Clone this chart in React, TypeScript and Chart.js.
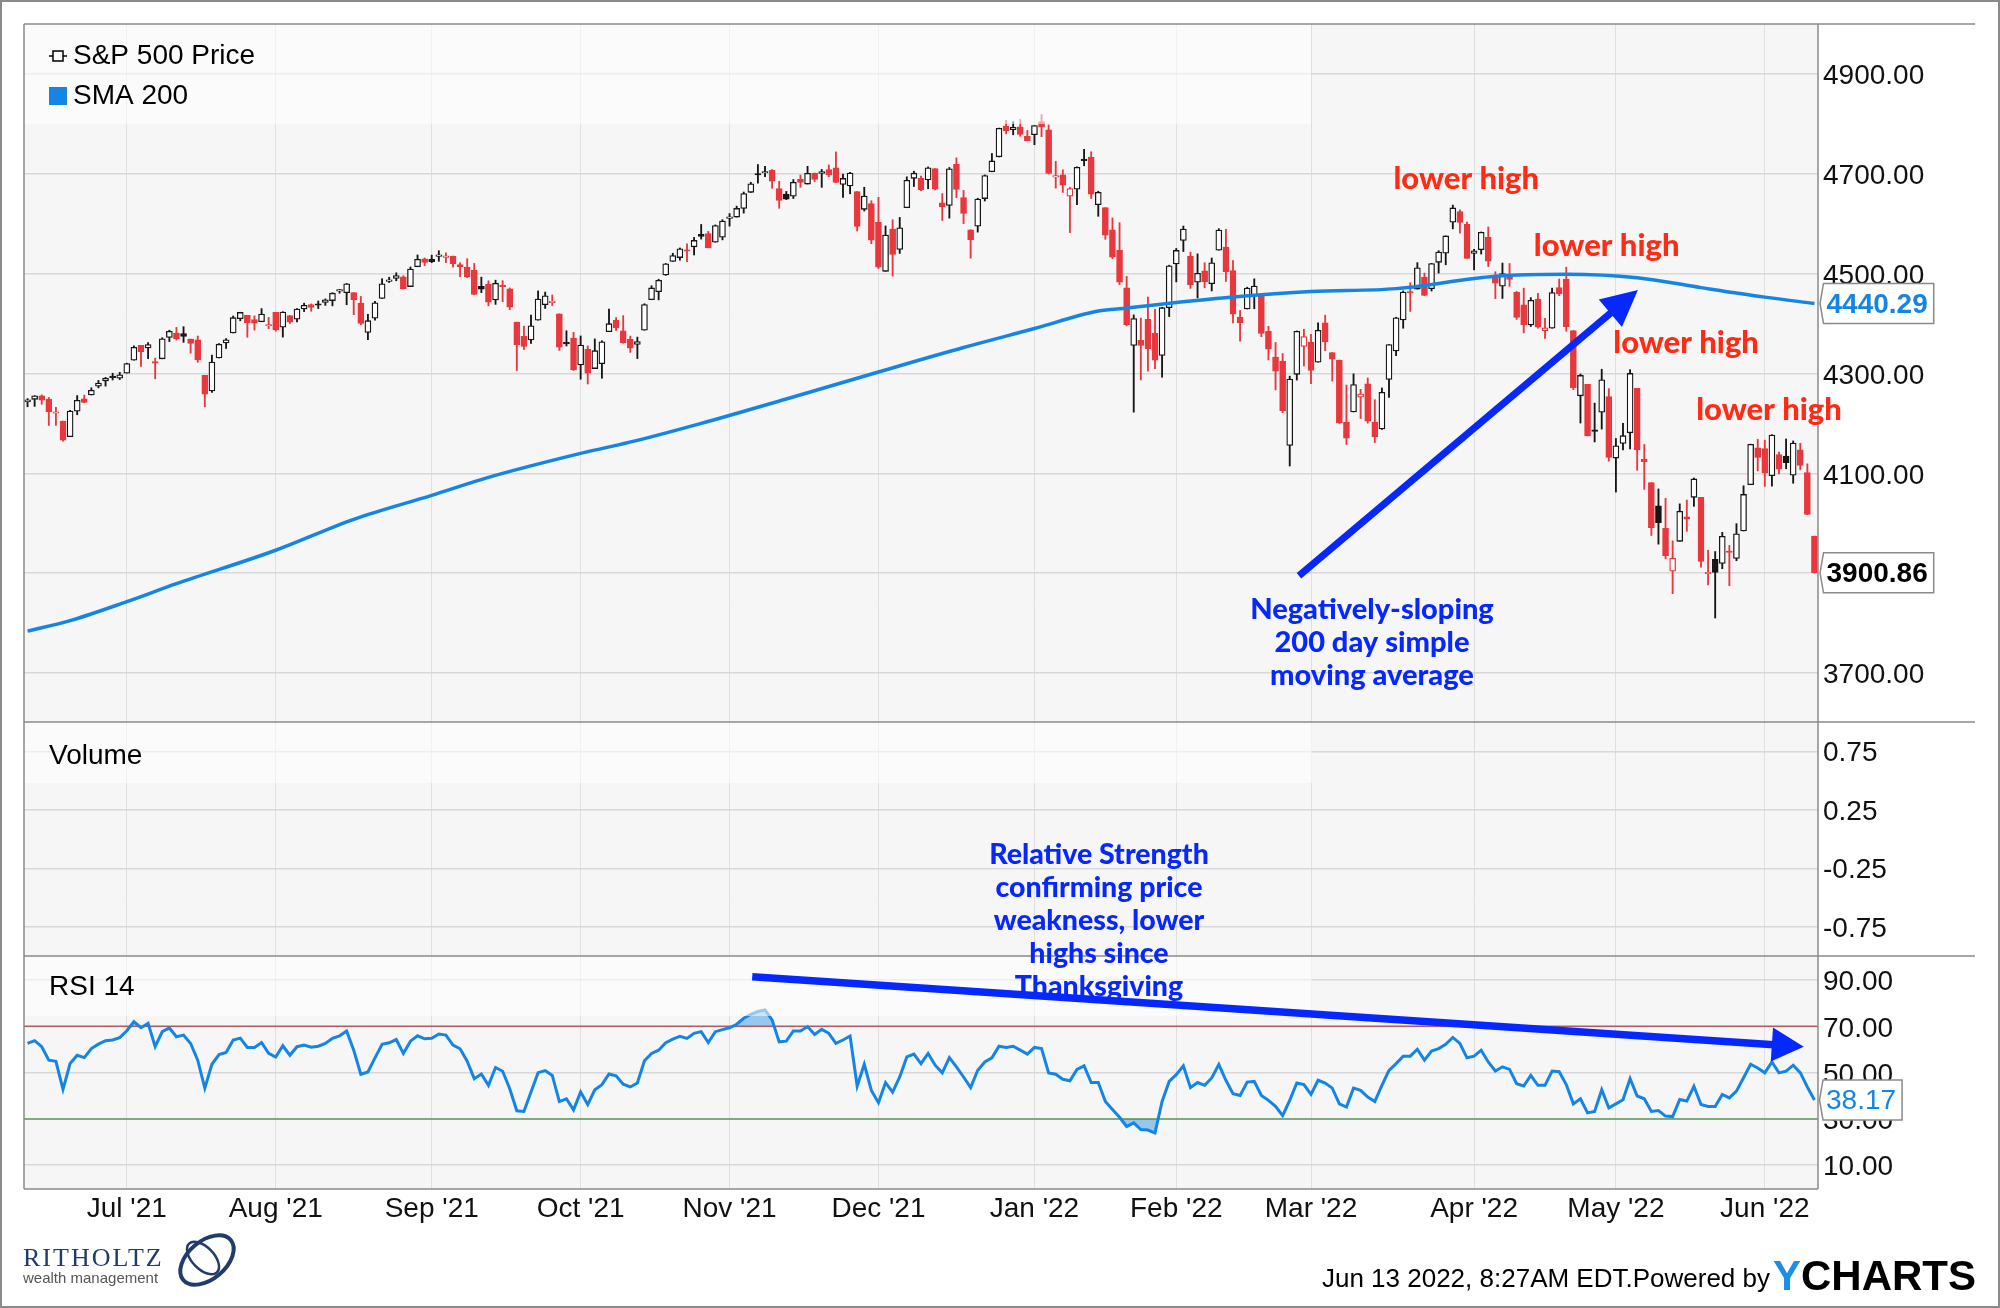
import React, { useEffect, useRef } from 'react';
import { Chart, registerables } from 'chart.js';

Chart.register(...registerables);

// ---------------- data ----------------
const dates = [
  '2021-06-11','2021-06-14','2021-06-15','2021-06-16','2021-06-17','2021-06-18','2021-06-21','2021-06-22','2021-06-23','2021-06-24','2021-06-25','2021-06-28','2021-06-29','2021-06-30',
  '2021-07-01','2021-07-02','2021-07-06','2021-07-07','2021-07-08','2021-07-09','2021-07-12','2021-07-13','2021-07-14','2021-07-15','2021-07-16','2021-07-19','2021-07-20','2021-07-21','2021-07-22','2021-07-23','2021-07-26','2021-07-27','2021-07-28','2021-07-29','2021-07-30',
  '2021-08-02','2021-08-03','2021-08-04','2021-08-05','2021-08-06','2021-08-09','2021-08-10','2021-08-11','2021-08-12','2021-08-13','2021-08-16','2021-08-17','2021-08-18','2021-08-19','2021-08-20','2021-08-23','2021-08-24','2021-08-25','2021-08-26','2021-08-27','2021-08-30','2021-08-31',
  '2021-09-01','2021-09-02','2021-09-03','2021-09-07','2021-09-08','2021-09-09','2021-09-10','2021-09-13','2021-09-14','2021-09-15','2021-09-16','2021-09-17','2021-09-20','2021-09-21','2021-09-22','2021-09-23','2021-09-24','2021-09-27','2021-09-28','2021-09-29','2021-09-30',
  '2021-10-01','2021-10-04','2021-10-05','2021-10-06','2021-10-07','2021-10-08','2021-10-11','2021-10-12','2021-10-13','2021-10-14','2021-10-15','2021-10-18','2021-10-19','2021-10-20','2021-10-21','2021-10-22','2021-10-25','2021-10-26','2021-10-27','2021-10-28','2021-10-29',
  '2021-11-01','2021-11-02','2021-11-03','2021-11-04','2021-11-05','2021-11-08','2021-11-09','2021-11-10','2021-11-11','2021-11-12','2021-11-15','2021-11-16','2021-11-17','2021-11-18','2021-11-19','2021-11-22','2021-11-23','2021-11-24','2021-11-26','2021-11-29','2021-11-30',
  '2021-12-01','2021-12-02','2021-12-03','2021-12-06','2021-12-07','2021-12-08','2021-12-09','2021-12-10','2021-12-13','2021-12-14','2021-12-15','2021-12-16','2021-12-17','2021-12-20','2021-12-21','2021-12-22','2021-12-23','2021-12-27','2021-12-28','2021-12-29','2021-12-30','2021-12-31',
  '2022-01-03','2022-01-04','2022-01-05','2022-01-06','2022-01-07','2022-01-10','2022-01-11','2022-01-12','2022-01-13','2022-01-14','2022-01-18','2022-01-19','2022-01-20','2022-01-21','2022-01-24','2022-01-25','2022-01-26','2022-01-27','2022-01-28','2022-01-31',
  '2022-02-01','2022-02-02','2022-02-03','2022-02-04','2022-02-07','2022-02-08','2022-02-09','2022-02-10','2022-02-11','2022-02-14','2022-02-15','2022-02-16','2022-02-17','2022-02-18','2022-02-22','2022-02-23','2022-02-24','2022-02-25','2022-02-28',
  '2022-03-01','2022-03-02','2022-03-03','2022-03-04','2022-03-07','2022-03-08','2022-03-09','2022-03-10','2022-03-11','2022-03-14','2022-03-15','2022-03-16','2022-03-17','2022-03-18','2022-03-21','2022-03-22','2022-03-23','2022-03-24','2022-03-25','2022-03-28','2022-03-29','2022-03-30','2022-03-31',
  '2022-04-01','2022-04-04','2022-04-05','2022-04-06','2022-04-07','2022-04-08','2022-04-11','2022-04-12','2022-04-13','2022-04-14','2022-04-18','2022-04-19','2022-04-20','2022-04-21','2022-04-22','2022-04-25','2022-04-26','2022-04-27','2022-04-28','2022-04-29',
  '2022-05-02','2022-05-03','2022-05-04','2022-05-05','2022-05-06','2022-05-09','2022-05-10','2022-05-11','2022-05-12','2022-05-13','2022-05-16','2022-05-17','2022-05-18','2022-05-19','2022-05-20','2022-05-23','2022-05-24','2022-05-25','2022-05-26','2022-05-27','2022-05-31',
  '2022-06-01','2022-06-02','2022-06-03','2022-06-06','2022-06-07','2022-06-08','2022-06-09','2022-06-10',
];

const openPrices = [
  4242.9,4248.3,4255.3,4248.9,4220.4,4204.8,4173.4,4224.6,4249.3,4257.0,4274.5,4284.9,4293.2,4290.7,
  4300.7,4326.6,4356.5,4351.0,4321.1,4329.4,4372.4,4381.1,4380.1,4369.0,4367.4,4296.4,4265.1,4331.1,4361.3,4381.2,4409.6,4416.4,4407.9,4403.6,4395.1,
  4422.7,4392.7,4415.9,4408.9,4429.1,4437.8,4438.0,4442.2,4446.1,4464.8,4461.7,4462.1,4440.9,4382.4,4410.6,4450.3,4484.4,4490.5,4493.8,4474.1,4513.8,4529.8,
  4528.8,4534.5,4532.4,4535.4,4518.1,4513.0,4506.9,4474.8,4479.3,4447.5,4477.1,4469.7,4402.95,4374.5,4367.4,4406.8,4438.0,4442.1,4419.5,4362.4,4370.7,
  4317.2,4348.4,4309.9,4319.6,4383.7,4406.5,4385.4,4368.3,4358.0,4386.8,4447.7,4463.7,4497.3,4524.4,4532.2,4546.1,4553.7,4578.7,4580.2,4562.8,4572.9,
  4610.6,4613.3,4630.7,4662.9,4699.3,4701.5,4707.3,4670.3,4659.4,4655.2,4689.3,4679.4,4701.5,4700.7,4708.4,4712.0,4678.5,4675.8,4664.6,4628.8,4640.2,
  4602.8,4504.7,4589.5,4548.4,4632.0,4690.9,4691.0,4687.6,4710.3,4642.0,4636.5,4719.1,4652.5,4587.9,4595.0,4650.4,4704.0,4734.0,4795.5,4788.6,4794.2,4775.2,
  4778.1,4804.5,4788.0,4693.4,4697.7,4655.3,4669.1,4728.6,4733.6,4638.0,4632.2,4588.0,4547.4,4471.4,4356.3,4366.6,4408.4,4380.6,4336.2,4431.8,
  4519.6,4566.4,4535.4,4482.8,4505.8,4480.0,4547.0,4553.2,4506.3,4412.6,4429.3,4455.8,4456.1,4384.6,4332.7,4324.9,4155.8,4298.4,4354.2,
  4363.1,4322.6,4401.3,4342.1,4327.0,4202.7,4223.1,4252.6,4279.5,4202.8,4188.8,4288.1,4345.1,4407.3,4462.4,4469.1,4493.1,4470.0,4522.7,4541.1,4602.9,4624.2,4599.0,
  4540.3,4548.0,4572.5,4494.2,4474.7,4494.2,4462.6,4437.6,4397.3,4449.1,4385.6,4390.6,4472.3,4489.2,4385.8,4255.3,4278.1,4186.5,4222.6,4253.8,
  4130.6,4159.8,4181.2,4270.4,4128.2,4081.3,4035.2,3990.1,3904.0,3963.9,4013.0,4052.0,4052.0,3899.0,3927.8,3919.4,3942.9,3929.6,3984.6,4077.4,4151.1,
  4149.8,4095.4,4137.6,4134.7,4096.5,4147.1,4101.7,3974.4,
];

const highPrices = [
  4249.7,4255.6,4257.2,4251.9,4232.3,4204.8,4226.2,4255.8,4256.6,4271.3,4286.1,4292.1,4300.5,4302.4,
  4320.7,4355.4,4356.5,4361.9,4330.9,4371.6,4386.7,4392.4,4393.7,4369.0,4375.1,4296.4,4336.8,4359.7,4369.9,4415.2,4422.7,4416.4,4415.5,4430.0,4412.3,
  4422.7,4423.8,4416.2,4429.8,4440.8,4439.4,4445.2,4449.4,4461.8,4468.4,4480.3,4462.1,4454.3,4418.6,4444.4,4489.9,4492.8,4501.7,4495.9,4513.3,4537.4,4531.4,
  4537.1,4545.9,4541.5,4535.4,4521.8,4529.9,4520.5,4493.0,4485.7,4486.9,4485.9,4471.5,4402.95,4394.9,4416.8,4465.4,4463.1,4457.3,4419.5,4385.6,4382.6,
  4375.2,4355.5,4369.2,4365.6,4429.0,4412.0,4415.9,4374.9,4372.9,4439.7,4475.8,4488.8,4520.4,4540.9,4551.4,4559.7,4572.6,4598.5,4584.6,4597.6,4608.1,
  4620.3,4635.2,4663.5,4683.0,4718.5,4714.9,4708.5,4684.9,4664.6,4688.5,4697.4,4715.0,4701.5,4708.8,4717.8,4743.8,4699.4,4702.9,4664.6,4673.0,4646.0,
  4652.9,4595.5,4608.0,4612.6,4694.0,4705.1,4695.3,4713.6,4710.3,4660.5,4712.6,4732.0,4666.7,4587.9,4651.1,4697.7,4740.7,4791.5,4807.0,4804.1,4808.9,4786.8,
  4796.6,4818.6,4797.7,4725.0,4708.0,4673.0,4714.1,4749.0,4744.1,4665.1,4632.2,4611.6,4602.1,4494.5,4417.4,4411.0,4453.2,4428.7,4432.7,4516.9,
  4550.5,4595.3,4542.9,4539.7,4521.9,4531.3,4590.0,4588.9,4526.3,4426.2,4472.8,4489.6,4456.1,4394.6,4362.1,4340.0,4294.7,4385.3,4388.8,
  4378.5,4401.5,4416.8,4342.1,4327.0,4276.9,4299.4,4268.3,4291.0,4247.6,4271.1,4358.0,4412.7,4465.4,4481.8,4522.0,4501.1,4520.6,4546.0,4575.6,4637.3,4627.8,4603.1,
  4548.7,4583.5,4593.5,4503.9,4521.2,4520.4,4464.4,4471.0,4452.0,4460.5,4410.3,4471.0,4489.2,4512.9,4385.8,4299.0,4278.1,4240.7,4308.5,4269.7,
  4169.8,4200.1,4307.7,4270.4,4157.7,4081.3,4068.8,4050.0,3964.8,4038.9,4046.5,4090.7,4052.0,3946.0,3943.4,3981.9,3955.7,3999.3,4075.1,4158.5,4168.3,
  4166.5,4177.5,4142.7,4168.8,4164.9,4160.1,4119.1,3974.4,
];

const lowPrices = [
  4233.4,4234.1,4238.4,4196.0,4196.1,4164.4,4173.4,4217.3,4241.4,4257.0,4271.2,4274.7,4287.0,4287.8,
  4300.7,4326.6,4314.4,4329.8,4289.4,4329.4,4364.0,4366.9,4362.4,4340.7,4322.5,4233.1,4262.1,4331.1,4350.1,4381.2,4405.5,4372.5,4387.0,4403.6,4389.9,
  4384.8,4373.0,4400.2,4403.4,4424.0,4424.7,4430.0,4436.4,4435.5,4460.8,4437.7,4417.8,4397.6,4367.7,4406.8,4450.3,4482.3,4485.7,4469.0,4474.1,4513.8,4515.8,
  4522.0,4524.7,4521.9,4513.0,4494.0,4492.1,4457.7,4462.0,4435.5,4438.4,4443.8,4427.8,4305.9,4348.0,4360.2,4406.8,4430.3,4436.2,4346.3,4355.1,4306.2,
  4288.5,4278.9,4309.9,4290.5,4383.7,4386.2,4360.6,4342.1,4329.9,4386.8,4447.7,4447.5,4496.4,4524.4,4526.9,4524.0,4537.4,4569.2,4551.7,4562.8,4567.6,
  4595.1,4613.3,4621.2,4662.6,4681.3,4694.4,4670.9,4630.9,4648.3,4650.4,4672.9,4679.4,4684.4,4672.8,4694.2,4682.2,4652.7,4659.9,4585.4,4625.3,4560.0,
  4510.3,4504.7,4495.1,4540.5,4632.0,4674.5,4666.0,4670.2,4667.6,4606.5,4611.2,4651.9,4600.2,4531.1,4583.2,4645.5,4704.0,4734.0,4780.0,4778.1,4775.3,4765.8,
  4758.2,4774.3,4699.4,4671.3,4662.7,4582.2,4638.3,4716.1,4650.3,4614.8,4568.7,4530.2,4478.0,4395.3,4222.6,4287.1,4304.8,4309.5,4292.5,4414.0,
  4483.5,4544.3,4470.4,4451.5,4471.5,4465.4,4547.0,4484.3,4401.4,4364.8,4429.3,4429.7,4373.8,4327.2,4267.1,4221.5,4114.7,4286.8,4315.1,
  4279.5,4322.6,4345.6,4285.0,4199.9,4157.9,4223.1,4209.8,4200.5,4161.7,4187.9,4252.0,4335.7,4390.6,4424.3,4469.1,4455.8,4465.2,4501.1,4517.7,4589.7,4581.3,4530.4,
  4507.6,4539.2,4514.2,4450.0,4450.3,4474.6,4408.4,4381.3,4394.0,4390.8,4370.3,4390.6,4455.8,4384.5,4267.6,4200.8,4175.0,4162.9,4188.6,4124.3,
  4062.5,4147.1,4148.9,4106.0,4067.9,3975.5,3958.2,3928.8,3858.9,3963.9,3984.0,4033.9,3911.9,3876.6,3810.3,3909.0,3875.1,3925.0,3984.6,4077.4,4104.9,
  4073.9,4074.4,4098.7,4109.2,4080.2,4107.2,4017.2,3900.2,
];

const closePrices = [
  4247.44,4255.15,4246.59,4223.70,4221.86,4166.45,4224.79,4246.44,4241.84,4266.49,4280.70,4290.61,4291.80,4297.50,
  4319.94,4352.34,4343.54,4358.13,4320.82,4369.55,4384.63,4369.21,4374.30,4360.03,4327.16,4258.49,4323.06,4358.69,4367.48,4411.79,4422.30,4401.46,4400.64,4419.15,4395.26,
  4387.16,4423.15,4402.66,4429.10,4436.52,4432.35,4436.75,4447.70,4460.83,4468.00,4479.71,4448.08,4400.27,4405.80,4441.67,4479.53,4486.23,4496.19,4470.00,4509.37,4528.79,4522.68,
  4524.09,4536.95,4535.43,4520.03,4514.07,4493.28,4458.58,4468.73,4443.05,4480.70,4473.75,4432.99,4357.73,4354.19,4395.64,4448.98,4455.48,4443.11,4352.63,4359.46,4307.54,
  4357.04,4300.46,4345.72,4363.55,4399.76,4391.34,4361.19,4350.65,4363.80,4438.26,4471.37,4486.46,4519.63,4536.19,4549.78,4544.90,4566.48,4574.79,4551.68,4596.42,4605.38,
  4613.67,4630.65,4660.57,4680.06,4697.53,4701.70,4685.25,4646.71,4649.27,4682.85,4682.80,4700.90,4688.67,4704.54,4697.96,4682.94,4690.70,4701.46,4594.62,4655.27,4567.00,
  4513.04,4577.10,4538.43,4591.67,4686.75,4701.21,4667.45,4712.02,4668.97,4634.09,4709.85,4668.67,4620.64,4568.02,4649.23,4696.56,4725.79,4791.19,4786.35,4793.06,4778.73,4766.18,
  4796.56,4793.54,4700.58,4696.05,4677.03,4670.29,4713.07,4726.35,4659.03,4662.85,4577.11,4532.76,4482.73,4397.94,4410.13,4356.45,4349.93,4326.51,4431.85,4515.55,
  4546.54,4589.38,4477.44,4500.53,4483.87,4521.54,4587.18,4504.08,4418.64,4401.67,4471.07,4475.01,4380.26,4348.87,4304.76,4225.50,4288.70,4384.65,4373.94,
  4306.26,4386.54,4363.49,4328.87,4201.09,4170.70,4277.88,4259.52,4204.31,4173.11,4262.45,4357.86,4411.67,4463.12,4461.18,4511.61,4456.24,4520.16,4543.06,4575.52,4631.60,4602.45,4530.41,
  4545.86,4582.64,4525.12,4481.15,4500.21,4488.28,4412.53,4397.45,4446.59,4392.59,4391.69,4462.21,4459.45,4393.66,4271.78,4296.12,4175.20,4183.96,4287.50,4131.93,
  4155.38,4175.48,4300.17,4146.87,4123.34,3991.24,4001.05,3935.18,3930.08,4023.89,4008.01,4088.85,3923.68,3900.79,3901.36,3973.75,3941.48,3978.73,4057.84,4158.24,4132.15,
  4101.23,4176.82,4108.54,4121.43,4160.68,4115.77,4017.82,3900.86,
];

const previousClose = 4239.18;

const smaDates = ['2021-06-11','2021-06-21','2021-07-01','2021-07-13','2021-08-02','2021-08-17','2021-09-01','2021-09-14','2021-10-01','2021-10-13','2021-10-26','2021-11-11','2021-12-01','2021-12-17','2022-01-03','2022-01-14','2022-01-21','2022-02-01','2022-02-11','2022-03-01','2022-03-17','2022-04-06','2022-04-21','2022-05-05','2022-05-18','2022-06-01','2022-06-10'];
const smaValues = [3784,3805,3843,3879,3946,4008,4056,4092,4140,4166,4200,4249,4303,4352,4390,4425,4431,4442,4453,4464,4470,4495,4499,4492,4472,4453,4440.29];

const rsiValues = [
  62.6,63.8,61.2,55.4,54.9,42.8,53.9,57.5,56.5,60.4,62.3,63.8,64.1,65.1,68.1,72.0,69.4,71.3,61.2,67.7,
  69.3,65.5,66.2,62.6,55.4,43.3,53.6,57.8,58.7,64.1,64.9,60.9,60.9,63.0,58.3,56.7,61.6,57.5,61.2,61.9,
  61.0,61.4,62.6,64.8,65.9,68.0,59.7,49.3,50.3,56.4,62.2,62.9,64.3,58.3,63.6,65.9,64.6,64.8,66.7,66.2,
  61.9,60.3,54.9,47.4,49.4,44.5,52.2,50.6,43.0,33.5,33.2,41.6,50.0,50.9,48.8,37.5,38.7,33.9,41.6,36.2,
  42.6,44.8,49.4,48.6,45.0,43.8,45.5,55.1,58.3,59.7,62.9,64.5,65.7,64.8,67.0,67.7,63.0,67.7,68.6,69.4,
  70.9,73.5,75.2,76.4,77.1,72.8,63.3,63.6,68.0,68.0,69.9,66.5,68.7,67.0,62.6,64.1,65.8,44.2,53.6,42.3,
  37.0,45.7,41.6,48.1,56.8,58.0,53.9,58.3,53.2,49.9,56.5,52.5,48.1,43.5,51.0,54.6,56.4,61.4,60.9,61.4,
  59.7,58.0,60.9,60.4,49.9,49.3,47.1,46.5,51.4,52.9,45.7,45.7,37.5,34.1,30.7,26.7,28.3,25.4,25.2,23.9,
  37.5,46.2,49.1,52.9,43.5,45.7,44.5,47.7,53.5,46.7,40.9,40.1,45.9,46.2,40.1,38.0,35.4,31.4,38.0,45.5,
  44.8,40.6,46.7,45.5,43.3,36.5,35.1,43.3,42.3,39.4,37.5,44.5,51.0,53.9,57.1,57.1,60.1,55.4,59.3,60.4,
  62.2,65.2,62.6,56.4,57.1,59.7,54.6,50.7,52.5,51.4,45.2,44.2,48.8,44.5,44.5,50.7,50.4,44.8,36.5,38.7,
  32.6,33.2,42.6,34.8,36.5,38.3,47.4,39.9,38.7,33.2,33.6,31.2,31.0,38.4,37.7,44.1,36.2,35.4,35.4,40.6,
  39.1,42.0,47.8,53.6,52.0,49.9,54.6,49.9,50.6,53.2,50.0,43.8,38.17,
];

const monthTickDates = ['2021-07-01','2021-08-02','2021-09-01','2021-10-01','2021-11-01','2021-12-01','2022-01-03','2022-02-01','2022-03-01','2022-04-01','2022-05-02','2022-06-01'];
const monthTickLabels = ["Jul '21","Aug '21","Sep '21","Oct '21","Nov '21","Dec '21","Jan '22","Feb '22","Mar '22","Apr '22","May '22","Jun '22"];
const priceTicks = [3700, 3900, 4100, 4300, 4500, 4700, 4900];
const volumeTicks = [-0.75, -0.25, 0.25, 0.75];
const rsiTicks = [10, 30, 50, 70, 90];
const rsiUpper = 70;
const rsiLower = 30;
const lastSma = 4440.29;
const lastPrice = 3900.86;
const lastRsi = 38.17;

const priceLegend = 'S&P 500 Price';
const smaLegend = 'SMA 200';
const volumeLabel = 'Volume';
const rsiLabel = 'RSI 14';
const lowerHighText = 'lower high';
const smaNoteLines = ['Negatively-sloping', '200 day simple', 'moving average'];
const rsiNoteLines = ['Relative Strength', 'confirming price', 'weakness, lower', 'highs since', 'Thanksgiving'];
const footerText = 'Jun 13 2022, 8:27AM EDT.Powered by';

// ---------------- styling ----------------
const FONT = '"Liberation Sans", Arial, sans-serif';
const NOTE_FONT = 'Lato, "Open Sans", sans-serif';
const BLUE = '#1485e5';
const RED = '#e8383d';
const BLACK = '#151515';
const NOTE_RED = '#ff2b14';
const NOTE_BLUE = '#0628ff';
const FRAME = '#8a8a8a';

const idxOf = (d: string) => dates.indexOf(d);
const monthTickIdx = monthTickDates.map(idxOf);

function candleColor(i: number) {
  const prev = i === 0 ? previousClose : closePrices[i - 1];
  return closePrices[i] >= prev ? BLACK : RED;
}
function candleFill(i: number) {
  return closePrices[i] > openPrices[i] ? '#ffffff' : candleColor(i);
}

function hline(ctx: any, x1: number, x2: number, y: number) {
  ctx.beginPath();
  ctx.moveTo(x1, y);
  ctx.lineTo(x2, y);
  ctx.stroke();
}
function vline(ctx: any, x: number, y1: number, y2: number) {
  ctx.beginPath();
  ctx.moveTo(x, y1);
  ctx.lineTo(x, y2);
  ctx.stroke();
}

function arrow(ctx: any, x1: number, y1: number, x2: number, y2: number, w: number, headLen: number, headHalf: number, color: string) {
  const ang = Math.atan2(y2 - y1, x2 - x1);
  const bx = x2 - headLen * Math.cos(ang);
  const by = y2 - headLen * Math.sin(ang);
  ctx.strokeStyle = color;
  ctx.lineWidth = w;
  ctx.lineCap = 'butt';
  ctx.beginPath();
  ctx.moveTo(x1, y1);
  ctx.lineTo(bx + 2 * Math.cos(ang), by + 2 * Math.sin(ang));
  ctx.stroke();
  ctx.fillStyle = color;
  ctx.beginPath();
  ctx.moveTo(x2, y2);
  ctx.lineTo(bx + headHalf * Math.sin(ang), by - headHalf * Math.cos(ang));
  ctx.lineTo(bx - headHalf * Math.sin(ang), by + headHalf * Math.cos(ang));
  ctx.closePath();
  ctx.fill();
}

function tag(ctx: any, xLeft: number, yMid: number, text: string, color: string, weight: string) {
  ctx.font = `${weight} 28px ${FONT}`;
  const w = ctx.measureText(text).width + 9;
  const h = 40;
  const notch = 3.5;
  const x0 = xLeft + notch;
  ctx.beginPath();
  ctx.moveTo(xLeft, yMid);
  ctx.lineTo(x0, yMid - h / 2);
  ctx.lineTo(x0 + w, yMid - h / 2);
  ctx.lineTo(x0 + w, yMid + h / 2);
  ctx.lineTo(x0, yMid + h / 2);
  ctx.closePath();
  ctx.fillStyle = '#ffffff';
  ctx.fill();
  ctx.strokeStyle = FRAME;
  ctx.lineWidth = 1.5;
  ctx.stroke();
  ctx.fillStyle = color;
  ctx.textAlign = 'left';
  ctx.textBaseline = 'middle';
  ctx.fillText(text, x0 + 3, yMid + 1.5);
}

const decorPlugin = {
  id: 'decor',
  beforeDraw(chart: any) {
    const { ctx, chartArea: a } = chart;
    ctx.save();
    ctx.fillStyle = '#ffffff';
    ctx.fillRect(0, 0, chart.width, chart.height);
    ctx.fillStyle = '#f6f6f6';
    ctx.fillRect(a.left, a.top, a.right - a.left, a.bottom - a.top);
    ctx.restore();
  },
  beforeDatasetsDraw(chart: any) {
    const { ctx, chartArea: a, scales } = chart;
    const yR = scales.yRsi;
    ctx.save();
    ctx.lineWidth = 1.5;
    ctx.strokeStyle = '#b95a5a';
    hline(ctx, a.left, a.right, yR.getPixelForValue(rsiUpper));
    ctx.strokeStyle = '#5c9a5c';
    hline(ctx, a.left, a.right, yR.getPixelForValue(rsiLower));
    ctx.restore();
  },
  afterDatasetsDraw(chart: any) {
    const { ctx, chartArea: a, scales } = chart;
    const x = scales.x;
    const yP = scales.y;
    const yV = scales.yVol;
    const yR = scales.yRsi;
    ctx.save();

    // translucent legend boxes
    ctx.fillStyle = 'rgba(255,255,255,0.55)';
    ctx.fillRect(a.left, yP.top, 1287, 100);
    ctx.fillRect(a.left, yV.top, 1288, 61);
    ctx.fillRect(a.left, yR.top, 1288, 60);

    // frame
    ctx.strokeStyle = FRAME;
    ctx.lineWidth = 1.5;
    const farRight = a.right + 157;
    hline(ctx, a.left, farRight, yP.top);
    hline(ctx, a.left, farRight, yV.top);
    hline(ctx, a.left, farRight, yR.top);
    hline(ctx, a.left, a.right, a.bottom);
    vline(ctx, a.left, a.top, a.bottom);
    vline(ctx, a.right, a.top, a.bottom);

    // legends
    ctx.textAlign = 'left';
    ctx.textBaseline = 'middle';
    ctx.fillStyle = '#000';
    ctx.font = `28px ${FONT}`;
    const legY1 = yP.top + 32;
    const legY2 = yP.top + 72;
    ctx.fillText(priceLegend, a.left + 49, legY1);
    ctx.fillText(smaLegend, a.left + 49, legY2);
    // candle icon
    ctx.strokeStyle = '#000';
    ctx.lineWidth = 1.5;
    hline(ctx, a.left + 25, a.left + 43, legY1);
    ctx.fillStyle = '#fff';
    ctx.fillRect(a.left + 29, legY1 - 5, 10, 10);
    ctx.strokeRect(a.left + 29, legY1 - 5, 10, 10);
    ctx.fillStyle = BLUE;
    ctx.fillRect(a.left + 25, legY2 - 9, 18, 18);
    ctx.fillStyle = '#000';
    ctx.fillText(volumeLabel, a.left + 25, yV.top + 34);
    ctx.fillText(rsiLabel, a.left + 25, yR.top + 31);

    // "lower high" notes
    ctx.font = `900 31px ${NOTE_FONT}`;
    ctx.fillStyle = NOTE_RED;
    ctx.textAlign = 'center';
    const lhAnchors = [[202.9, 4689], [222.7, 4555], [233.9, 4361], [245.6, 4227]];
    lhAnchors.forEach(([xi, v]) => ctx.fillText(lowerHighText, x.getPixelForValue(xi), yP.getPixelForValue(v)));

    // SMA note + arrow
    arrow(ctx, x.getPixelForValue(179.3), yP.getPixelForValue(3895), x.getPixelForValue(227.1), yP.getPixelForValue(4467), 7, 36, 18, NOTE_BLUE);
    ctx.font = `900 29px ${NOTE_FONT}`;
    ctx.fillStyle = NOTE_BLUE;
    const smaNoteX = x.getPixelForValue(189.6);
    const smaNoteY = yP.getPixelForValue(3827);
    smaNoteLines.forEach((t, k) => ctx.fillText(t, smaNoteX, smaNoteY + k * 33));

    // RSI note + arrow
    arrow(ctx, x.getPixelForValue(102.2), yR.getPixelForValue(91.4), x.getPixelForValue(250.5), yR.getPixelForValue(61.2), 7.5, 32, 17, NOTE_BLUE);
    ctx.font = `900 28.5px ${NOTE_FONT}`;
    ctx.fillStyle = NOTE_BLUE;
    const rsiNoteX = x.getPixelForValue(151.1);
    const rsiNoteY = yR.getPixelForValue(144.3);
    rsiNoteLines.forEach((t, k) => ctx.fillText(t, rsiNoteX, rsiNoteY + k * 33));

    // value tags
    tag(ctx, a.right + 2, yP.getPixelForValue(lastSma), lastSma.toFixed(2), BLUE, 'bold');
    tag(ctx, a.right + 2, yP.getPixelForValue(lastPrice), lastPrice.toFixed(2), '#000', 'bold');
    tag(ctx, a.right + 1.5, yR.getPixelForValue(lastRsi), lastRsi.toFixed(2), BLUE, 'normal');

    // footer
    ctx.textAlign = 'right';
    ctx.textBaseline = 'alphabetic';
    ctx.fillStyle = '#000';
    ctx.font = `26px ${FONT}`;
    ctx.fillText(footerText, 1770, 1287);
    ctx.textAlign = 'left';
    ctx.font = `bold 42px ${FONT}`;
    ctx.fillStyle = '#1a8fe8';
    ctx.fillText('Y', 1773, 1290);
    const yw = ctx.measureText('Y').width;
    ctx.fillStyle = '#000';
    ctx.fillText('CHARTS', 1773 + yw, 1290);

    // Ritholtz logo
    ctx.fillStyle = '#1f3c6b';
    ctx.font = `26px "Liberation Serif", serif`;
    try { ctx.letterSpacing = '2px'; } catch (e) {}
    ctx.fillText('RITHOLTZ', 23, 1266);
    try { ctx.letterSpacing = '0px'; } catch (e) {}
    ctx.fillStyle = '#555';
    ctx.font = `15px ${FONT}`;
    ctx.fillText('wealth management', 23, 1283);
    ctx.strokeStyle = '#1f3c6b';
    ctx.lineWidth = 4;
    ctx.beginPath();
    ctx.ellipse(207, 1260, 31, 19, -0.7, 0, Math.PI * 2);
    ctx.stroke();
    ctx.lineWidth = 2.5;
    ctx.beginPath();
    ctx.ellipse(203, 1258, 20, 11, 0.8, 0, Math.PI * 2);
    ctx.stroke();

    // outer border
    ctx.strokeStyle = FRAME;
    ctx.lineWidth = 2;
    ctx.strokeRect(1, 1, chart.width - 2, chart.height - 2);
    ctx.restore();
  },
};

const tickFont = { family: FONT, size: 28 };

function yAxis(weight: number, min: number, max: number, ticks: number[]) {
  return {
    type: 'linear',
    position: 'right',
    stack: 'panels',
    stackWeight: weight,
    min,
    max,
    grid: { color: '#d8d8d8', lineWidth: 1.5, drawTicks: false },
    border: { display: false },
    ticks: { font: tickFont, color: '#111', padding: 5, labelOffset: 2.5, autoSkip: false, callback: (v: number) => Number(v).toFixed(2) },
    afterBuildTicks: (s: any) => { s.ticks = ticks.map((v) => ({ value: v })); },
    afterFit: (s: any) => { s.width = 182; },
  };
}

function buildConfig(): any {
  return {
    type: 'line',
    data: {
      datasets: [
        {
          type: 'line',
          label: 'SMA 200',
          data: smaDates.map((d, k) => ({ x: idxOf(d), y: smaValues[k] })),
          yAxisID: 'y',
          borderColor: BLUE,
          borderWidth: 3.5,
          pointRadius: 0,
          cubicInterpolationMode: 'monotone',
          fill: false,
          order: 0,
        },
        {
          type: 'bar',
          label: 'body',
          data: dates.map((_, i) => ({ x: i, y: [openPrices[i], closePrices[i]] })),
          yAxisID: 'y',
          grouped: false,
          barThickness: 6,
          minBarLength: 1.5,
          borderSkipped: false,
          borderWidth: 1.3,
          borderColor: (c: any) => candleColor(c.dataIndex),
          backgroundColor: (c: any) => candleFill(c.dataIndex),
          order: 2,
        },
        {
          type: 'bar',
          label: 'wick',
          data: dates.map((_, i) => ({ x: i, y: [lowPrices[i], highPrices[i]] })),
          yAxisID: 'y',
          grouped: false,
          barThickness: 1.2,
          borderWidth: 0,
          backgroundColor: (c: any) => candleColor(c.dataIndex),
          order: 3,
        },
        {
          type: 'line',
          label: 'RSI 14',
          data: rsiValues.map((v, i) => ({ x: i, y: v })),
          yAxisID: 'yRsi',
          borderColor: BLUE,
          borderWidth: 3,
          pointRadius: 0,
          tension: 0,
          fill: { target: { value: rsiUpper }, above: 'rgba(20,133,229,0.42)', below: 'rgba(0,0,0,0)' },
          order: 1,
        },
        {
          type: 'line',
          label: 'RSI low fill',
          data: rsiValues.map((v, i) => ({ x: i, y: v })),
          yAxisID: 'yRsi',
          borderColor: 'rgba(0,0,0,0)',
          borderWidth: 0,
          pointRadius: 0,
          tension: 0,
          fill: { target: { value: rsiLower }, above: 'rgba(0,0,0,0)', below: 'rgba(20,133,229,0.42)' },
          order: 1,
        },
      ],
    },
    options: {
      responsive: false,
      animation: false,
      events: [],
      layout: { padding: { left: 24, top: 24, right: 0, bottom: 0 } },
      plugins: { legend: { display: false }, tooltip: { enabled: false } },
      scales: {
        x: {
          type: 'linear',
          min: -0.5,
          max: dates.length - 0.5,
          offset: false,
          grid: { color: '#dfdfdf', lineWidth: 1, drawTicks: false, offset: false },
          border: { display: false },
          ticks: {
            font: tickFont,
            color: '#111',
            padding: 3,
            autoSkip: false,
            maxRotation: 0,
            callback: (v: number) => {
              const k = monthTickIdx.indexOf(v);
              return k >= 0 ? monthTickLabels[k] : '';
            },
          },
          afterBuildTicks: (s: any) => { s.ticks = monthTickIdx.map((v) => ({ value: v })); },
          afterFit: (s: any) => { s.height = 119; },
        },
        y: yAxis(698, 3602, 5000, priceTicks),
        yVol: yAxis(234, -1, 1, volumeTicks),
        yRsi: yAxis(233, -0.3, 100.4, rsiTicks),
      },
    },
    plugins: [decorPlugin],
  };
}

export default function App() {
  const ref = useRef<HTMLCanvasElement | null>(null);
  useEffect(() => {
    document.body.style.margin = '0';
    const chart = new Chart(ref.current as HTMLCanvasElement, buildConfig());
    return () => chart.destroy();
  }, []);
  return (
    <canvas
      ref={ref}
      width={2000}
      height={1308}
      style={{ display: 'block', width: 2000, height: 1308, position: 'absolute', left: 0, top: 0 }}
    />
  );
}
